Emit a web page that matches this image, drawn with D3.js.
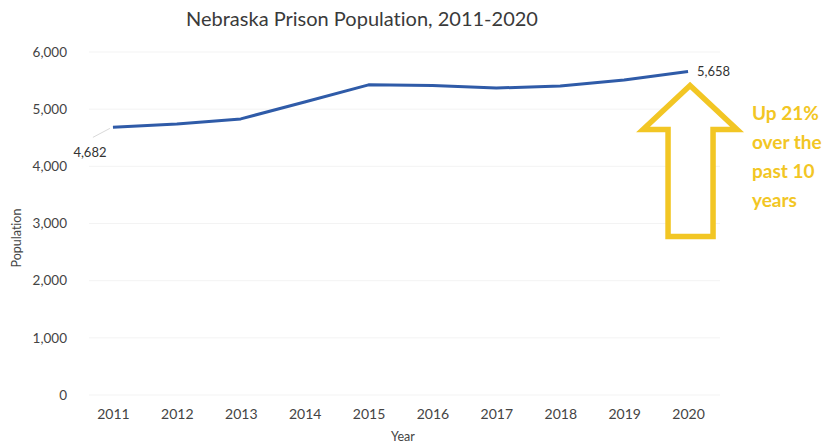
<!DOCTYPE html>
<html>
<head>
<meta charset="utf-8">
<script src="https://cdn.jsdelivr.net/npm/d3@7"></script>
<style>
  html, body { margin: 0; padding: 0; background: #ffffff; }
  svg { display: block; font-family: Lato, "Open Sans", sans-serif; font-variant-ligatures: none; }
</style>
</head>
<body>
<svg id="chart" width="838" height="444"></svg>
<script>
// Nebraska prison population by year
const years = [2011, 2012, 2013, 2014, 2015, 2016, 2017, 2018, 2019, 2020];
const population = [4682, 4740, 4830, 5125, 5425, 5415, 5370, 5405, 5510, 5658];
const yTicks = [0, 1000, 2000, 3000, 4000, 5000, 6000];
const title = "Nebraska Prison Population, 2011-2020";
const noteLines = ["Up 21%", "over the", "past 10", "years"];

const svg = d3.select("#chart");
const plot = { left: 81, right: 720, top: 52, bottom: 395 };

const x = d3.scalePoint()
  .domain(years)
  .range([plot.left, plot.right])
  .padding(0.5);

const y = d3.scaleLinear()
  .domain([0, 6000])
  .range([plot.bottom, plot.top]);

const fmt = d3.format(",");

// Title
svg.append("text")
  .attr("x", 362).attr("y", 26)
  .attr("text-anchor", "middle")
  .attr("font-size", 20)
  .attr("fill", "#3a3a3a")
  .text(title);

// Faint horizontal gridlines
svg.append("g")
  .selectAll("line")
  .data(yTicks)
  .join("line")
  .attr("x1", plot.left + 8).attr("x2", plot.right)
  .attr("y1", d => y(d)).attr("y2", d => y(d))
  .attr("stroke", "#f3f3f3")
  .attr("stroke-width", 1);

// Y axis (labels only)
const yAxis = svg.append("g")
  .attr("transform", `translate(${plot.left - 14},0)`)
  .call(d3.axisLeft(y).tickValues(yTicks).tickFormat(fmt).tickSize(0).tickPadding(0));
yAxis.select(".domain").remove();
yAxis.selectAll("text")
  .attr("font-size", 13.5)
  .attr("font-family", "Lato, 'Open Sans', sans-serif")
  .attr("fill", "#444");

// X axis (labels only)
const xAxis = svg.append("g")
  .attr("transform", `translate(0,${plot.bottom})`)
  .call(d3.axisBottom(x).tickSize(0).tickPadding(14));
xAxis.select(".domain").remove();
xAxis.selectAll("text")
  .attr("font-size", 14)
  .attr("font-family", "Lato, 'Open Sans', sans-serif")
  .attr("fill", "#444");

// Axis titles
svg.append("text")
  .attr("transform", "translate(21,238) rotate(-90)")
  .attr("text-anchor", "middle")
  .attr("font-size", 12.5)
  .attr("fill", "#444")
  .text("Population");

svg.append("text")
  .attr("x", 403).attr("y", 441)
  .attr("text-anchor", "middle")
  .attr("font-size", 12.5)
  .attr("fill", "#444")
  .text("Year");

// Population line
const line = d3.line()
  .x((d, i) => x(years[i]))
  .y(d => y(d));

svg.append("path")
  .datum(population)
  .attr("d", line)
  .attr("fill", "none")
  .attr("stroke", "#2f5ba8")
  .attr("stroke-width", 3)
  .attr("stroke-linejoin", "round");

// Data labels for first and last points
const first = { yr: years[0], v: population[0] };
const last = { yr: years[years.length - 1], v: population[population.length - 1] };

svg.append("line")
  .attr("x1", x(first.yr) - 3).attr("y1", y(first.v) + 1)
  .attr("x2", x(first.yr) - 20).attr("y2", y(first.v) + 10)
  .attr("stroke", "#d9d9d9")
  .attr("stroke-width", 1);

svg.append("text")
  .attr("x", x(first.yr) - 23).attr("y", y(first.v) + 30)
  .attr("text-anchor", "middle")
  .attr("font-size", 13)
  .attr("fill", "#333")
  .text(fmt(first.v));

svg.append("text")
  .attr("x", x(last.yr) + 9).attr("y", y(last.v) + 4)
  .attr("font-size", 13)
  .attr("fill", "#333")
  .text(fmt(last.v));

// Upward arrow callout below the last point
const ax = x(last.yr) + 2;
const tipY = y(last.v) + 14;
const arrow = d3.path();
arrow.moveTo(ax, tipY);
arrow.lineTo(ax + 47, tipY + 44);
arrow.lineTo(ax + 23, tipY + 44);
arrow.lineTo(ax + 23, tipY + 151);
arrow.lineTo(ax - 22, tipY + 151);
arrow.lineTo(ax - 22, tipY + 44);
arrow.lineTo(ax - 47, tipY + 44);
arrow.closePath();

svg.append("path")
  .attr("d", arrow.toString())
  .attr("fill", "#ffffff")
  .attr("stroke", "#f2c624")
  .attr("stroke-width", 5.5)
  .attr("stroke-linejoin", "miter");

svg.append("g")
  .selectAll("text")
  .data(noteLines)
  .join("text")
  .attr("x", 752)
  .attr("y", (d, i) => 120 + i * 29)
  .attr("font-size", 19)
  .attr("font-weight", "bold")
  .attr("fill", "#f2c624")
  .text(d => d);
</script>
</body>
</html>
